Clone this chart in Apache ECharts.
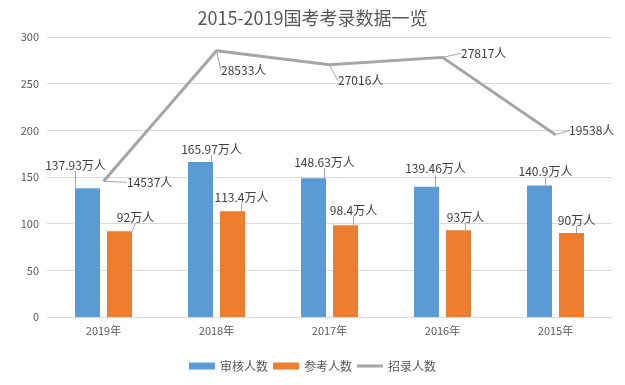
<!DOCTYPE html>
<html>
<head>
<meta charset="utf-8">
<script src="https://cdn.jsdelivr.net/npm/echarts@6/dist/echarts.min.js"></script>
<style>html,body{margin:0;padding:0;background:#fff}#c{width:625px;height:385px}</style>
</head>
<body>
<div id="c"></div>
<script>
var categories = ['2019年', '2018年', '2017年', '2016年', '2015年'];
var reviewed = [137.93, 165.97, 148.63, 139.46, 140.9];   // 审核人数 (万人)
var examined = [92, 113.4, 98.4, 93, 90];                 // 参考人数 (万人)
var recruited = [14537, 28533, 27016, 27817, 19538];      // 招录人数 (人)
var yTicks = [0, 50, 100, 150, 200, 250, 300];

// label offsets (layout only)
var offReviewed = [[-12, -17], [11, -7], [11, -10], [9, -12], [6, -8]];
var offExamined = [[16, -8], [9, -8], [8, -9], [7, -7], [5, -7]];
var offRecruited = [[23, 1], [4, 20], [8, 16], [18, -4], [13, -4]];

var font = '"Noto Sans CJK SC", "Microsoft YaHei", sans-serif';
var chart = echarts.init(document.getElementById('c'), null, {renderer: 'canvas'});
var leader = {show: true, lineStyle: {color: '#a6a6a6', width: 1}, length2: 0};
chart.setOption({
  backgroundColor: '#fff',
  animation: false,
  textStyle: {fontFamily: font},
  title: {
    text: '2015-2019国考考录数据一览',
    left: 'center', top: 4,
    textStyle: {fontSize: 18, fontWeight: 'normal', color: '#595959', fontFamily: font}
  },
  legend: {
    bottom: 8, left: 'center',
    itemWidth: 26, itemHeight: 7, itemGap: 5,
    textStyle: {fontSize: 12, color: '#595959', fontFamily: font},
    data: [
      {name: '审核人数', icon: 'rect'},
      {name: '参考人数', icon: 'rect'},
      {name: '招录人数', icon: 'path://M0,0L26,0L26,3L0,3Z'}
    ]
  },
  grid: {left: 47, right: 13, top: 37, bottom: 68},
  xAxis: {
    type: 'category', data: categories,
    axisLine: {lineStyle: {color: '#d9d9d9'}},
    axisTick: {show: false},
    axisLabel: {color: '#595959', fontSize: 11, margin: 8, fontFamily: font}
  },
  yAxis: {
    type: 'value', min: yTicks[0], max: yTicks[yTicks.length - 1], interval: 50,
    axisLine: {show: false}, axisTick: {show: false},
    axisLabel: {color: '#595959', fontSize: 11, margin: 8, fontFamily: font},
    splitLine: {lineStyle: {color: '#d9d9d9'}}
  },
  series: [
    {
      name: '审核人数', type: 'bar', data: reviewed,
      barWidth: 25, barGap: '28%',
      itemStyle: {color: '#5b9bd5'},
      label: {show: true, position: 'top', distance: 0, color: '#404040', fontSize: 12, fontFamily: font,
        formatter: function (p) { return p.value + '万人'; }},
      labelLine: leader,
      labelLayout: function (p) { var o = offReviewed[p.dataIndex]; return {dx: o[0], dy: o[1]}; }
    },
    {
      name: '参考人数', type: 'bar', data: examined,
      barWidth: 25, barGap: '28%',
      itemStyle: {color: '#ed7d31'},
      label: {show: true, position: 'top', distance: 0, color: '#404040', fontSize: 12, fontFamily: font,
        formatter: function (p) { return p.value + '万人'; }},
      labelLine: leader,
      labelLayout: function (p) { var o = offExamined[p.dataIndex]; return {dx: o[0], dy: o[1]}; }
    },
    {
      name: '招录人数', type: 'line',
      data: recruited.map(function (v) { return v / 100; }),
      symbol: 'circle', symbolSize: 1, showSymbol: true,
      itemStyle: {color: '#a5a5a5'},
      lineStyle: {color: '#a5a5a5', width: 3},
      label: {show: true, position: 'right', distance: 0, color: '#404040', fontSize: 12, fontFamily: font,
        formatter: function (p) { return recruited[p.dataIndex] + '人'; }},
      labelLine: leader,
      labelLayout: function (p) { var o = offRecruited[p.dataIndex]; return {dx: o[0], dy: o[1]}; }
    }
  ]
});
</script>
</body>
</html>
